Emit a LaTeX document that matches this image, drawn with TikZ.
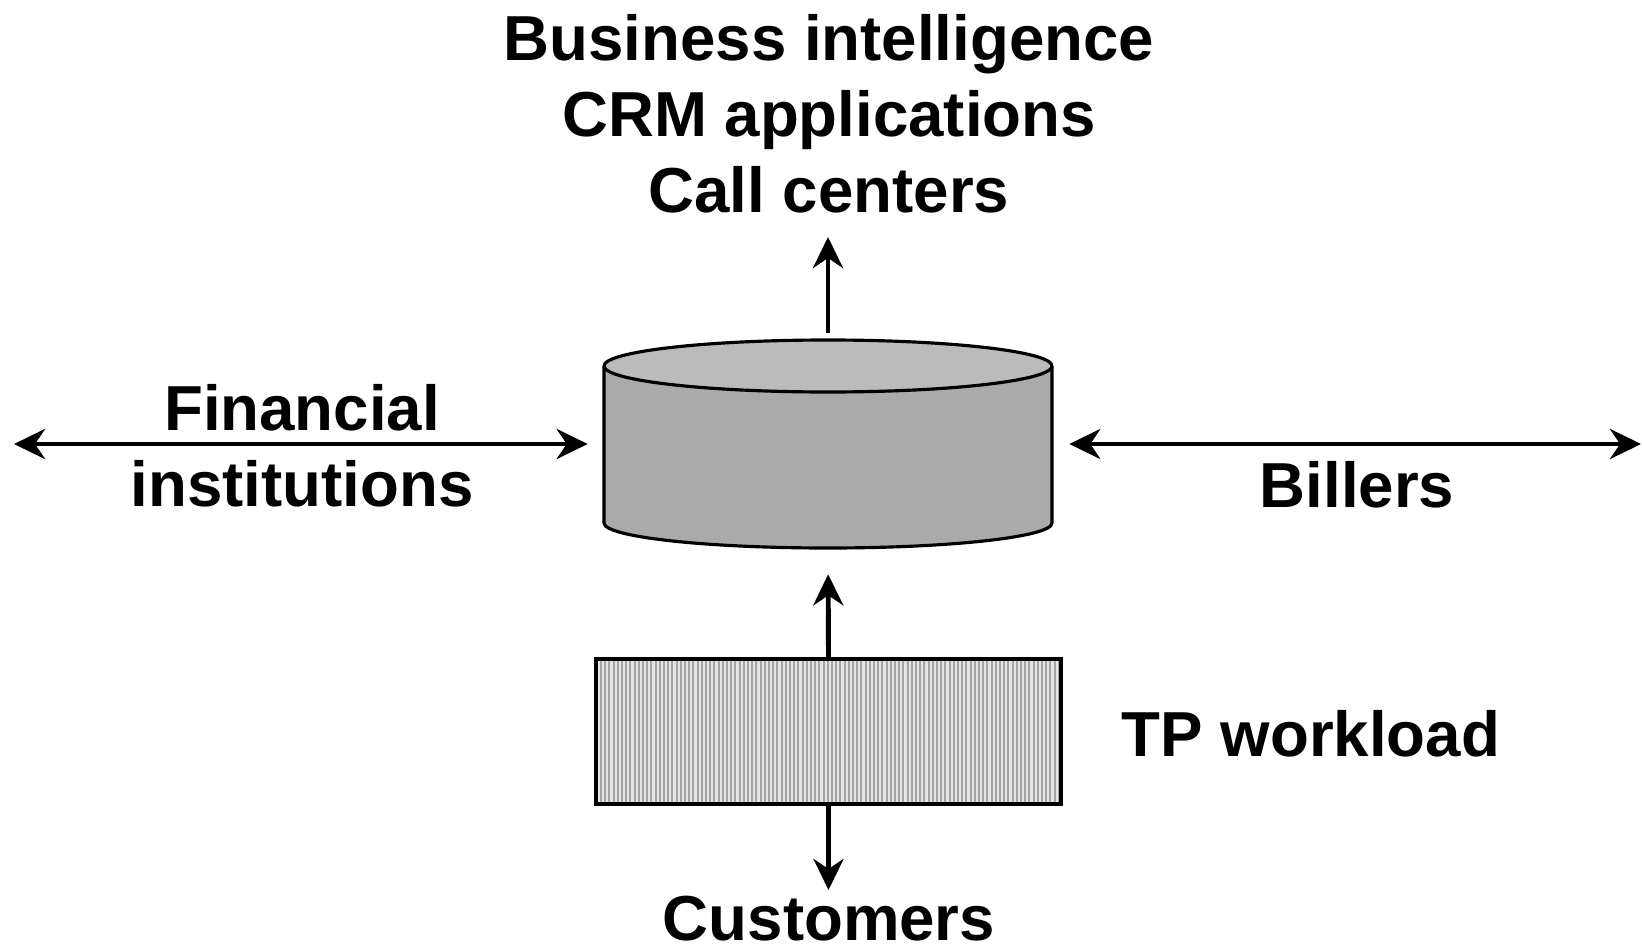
\documentclass[tikz,border=0pt]{standalone}
\usepackage{fontspec}
\setmainfont{Liberation Sans}
\usetikzlibrary{arrows.meta}

\definecolor{cylside}{HTML}{AAAAAA}
\definecolor{cyltop}{HTML}{BBBBBB}
\definecolor{stripebg}{HTML}{E6E6E6}
\definecolor{stripefg}{HTML}{A4A4A4}

\tikzset{
  lbl/.style={font=\fontsize{36.2pt}{43.4pt}\selectfont\bfseries, inner sep=0pt, align=center},
  conn/.style={line width=2.8pt, -{Stealth[length=0.62cm, width=0.6cm, inset=0.2cm]}},
  bothconn/.style={line width=2.8pt, {Stealth[length=0.62cm, width=0.6cm, inset=0.2cm]}-{Stealth[length=0.62cm, width=0.6cm, inset=0.2cm]}},
  cylline/.style={line width=1.8pt, line join=round},
  tpbox/.style={draw, line width=2.2pt, fill=stripebg, inner sep=0pt,
    minimum width=9.3cm, minimum height=2.9cm,
    path picture={
      \foreach \k in {0,...,112}
        \draw[stripefg, line width=1.1pt]
          ([xshift=0.1cm+\k*0.084cm]path picture bounding box.south west) --
          ([xshift=0.1cm+\k*0.084cm]path picture bounding box.north west);
    }},
}

\begin{document}
\begin{tikzpicture}[x=0.02cm, y=-0.02cm]
\useasboundingbox (0,0) rectangle (1642,950);

% database cylinder
\fill[cylside] (604,366) -- (604,523)
  arc[start angle=180, end angle=0, x radius=224, y radius=25] -- (1052,366) -- cycle;
\draw[cylline] (604,366) -- (604,523)
  arc[start angle=180, end angle=0, x radius=224, y radius=25] -- (1052,366);
\filldraw[cylline, fill=cyltop] (828,366) ellipse[x radius=224, y radius=26];
\node[inner sep=0pt, minimum width=8.96cm, minimum height=4.16cm] (db) at (828,444) {};

% transaction processing box
\node[tpbox] (tp) at (828.5,731.5) {};

% labels
\node[lbl, anchor=north] (apps) at (829,14) {Business intelligence\\CRM applications\\Call centers};
\node[lbl, anchor=north] (fin) at (302,384) {Financial\\institutions};
\node[lbl, anchor=base] (bill) at (1357,507) {Billers};
\node[lbl, anchor=base] (tpl) at (1311,756) {TP workload};
\node[lbl, anchor=base] (cust) at (829,940) {Customers};

% connector ends
\coordinate (lend) at (14,444);
\coordinate (rend) at (1641,444);
\coordinate (uend) at (828,237);
\coordinate (dend) at (828.5,890);

% connectors
\draw[bothconn, shorten >=0.32cm] (lend) -- (db.west);
\draw[bothconn, shorten <=0.34cm] (db.east) -- (rend);
\draw[conn, shorten <=0.14cm] (db.north) -- (uend);
\draw[conn, shorten >=0.52cm] (tp.north) -- (db.south);
\draw[conn] (tp.south) -- (dend);
\end{tikzpicture}
\end{document}
